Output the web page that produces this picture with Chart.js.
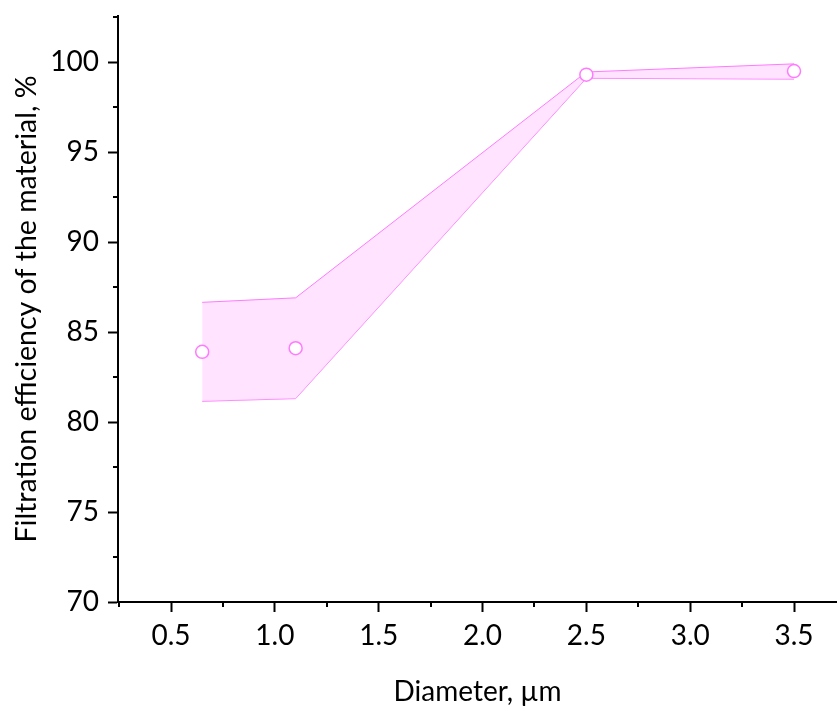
<!DOCTYPE html>
<html lang="en">
<head>
    <meta charset="UTF-8">
    <title>Filtration efficiency</title>
    <script src="https://cdn.jsdelivr.net/npm/chart.js"></script>
    <style>
        body { margin: 0; background: #fff; }
    </style>
</head>
<body>
<canvas id="chart" width="837" height="711"></canvas>
<script>
    // particle diameter, um
    const diameters = [0.65, 1.1, 2.5, 3.5];
    // mean efficiency, %
    const efficiency = [83.9, 84.1, 99.3, 99.5];
    // band edges
    const upperBand = [86.65, 86.9, 99.45, 99.9];
    const lowerBand = [81.15, 81.3, 99.1, 99.05];

    const xTicks = [0.5, 1.0, 1.5, 2.0, 2.5, 3.0, 3.5];
    const xMinor = [0.25, 0.75, 1.25, 1.75, 2.25, 2.75, 3.25];
    const yTicks = [70, 75, 80, 85, 90, 95, 100];
    const yMinor = [72.5, 77.5, 82.5, 87.5, 92.5, 97.5, 102.5];

    const pink = '#ff7aff';
    const fontFamily = 'Lato, "Open Sans", sans-serif';

    const toPts = (ys) => diameters.map((d, i) => ({ x: d, y: ys[i] }));

    // short ticks between the labelled ones
    const minorTicks = {
        id: 'minorTicks',
        afterDraw(chart) {
            const ctx = chart.ctx;
            const x = chart.scales.x, y = chart.scales.y;
            ctx.save();
            ctx.strokeStyle = '#000';
            ctx.lineWidth = 2;
            ctx.beginPath();
            xMinor.forEach(v => {
                const px = Math.round(x.getPixelForValue(v));
                if (px < x.left || px > x.right) return;
                ctx.moveTo(px, x.top);
                ctx.lineTo(px, x.top + 5);
            });
            yMinor.forEach(v => {
                const py = Math.round(y.getPixelForValue(v));
                if (py < y.top - 1 || py > y.bottom) return;
                ctx.moveTo(y.right, py);
                ctx.lineTo(y.right - 5, py);
            });
            ctx.stroke();
            ctx.restore();
        }
    };

    new Chart(document.getElementById('chart'), {
        type: 'line',
        data: {
            datasets: [{
                label: 'Efficiency',
                data: toPts(efficiency),
                showLine: false,
                pointRadius: 6.5,
                pointBorderWidth: 1.5,
                pointBackgroundColor: '#ffffff',
                pointBorderColor: pink
            }, {
                label: 'Upper',
                data: toPts(upperBand),
                borderColor: pink,
                borderWidth: 1,
                backgroundColor: 'rgba(255, 200, 255, 0.5)',
                pointRadius: 0,
                fill: '+1'
            }, {
                label: 'Lower',
                data: toPts(lowerBand),
                borderColor: pink,
                borderWidth: 1,
                pointRadius: 0,
                fill: false
            }]
        },
        options: {
            responsive: false,
            animation: false,
            layout: { autoPadding: false, padding: { top: 16, right: 0, left: 0, bottom: 0 } },
            plugins: {
                legend: { display: false },
                tooltip: { enabled: false }
            },
            scales: {
                x: {
                    type: 'linear',
                    min: 0.2446,
                    max: 3.707,
                    afterBuildTicks: s => { s.ticks = xTicks.map(v => ({ value: v })); },
                    afterFit: s => { s.height = 109; s.paddingLeft = 0; s.paddingRight = 0; },
                    border: { color: '#000', width: 2 },
                    grid: { drawOnChartArea: false, tickLength: 10, tickWidth: 2, tickColor: '#000' },
                    ticks: {
                        color: '#000',
                        padding: 7,
                        maxRotation: 0,
                        font: { family: fontFamily, size: 28 },
                        callback: v => v.toFixed(1)
                    },
                    title: {
                        display: true,
                        text: 'Diameter, µm',
                        color: '#000',
                        font: { family: fontFamily, size: 28 },
                        padding: { top: 0, bottom: 2 }
                    }
                },
                y: {
                    min: 70,
                    max: 102.56,
                    afterBuildTicks: s => { s.ticks = yTicks.map(v => ({ value: v })); },
                    afterFit: s => { s.width = 118; s.paddingTop = 0; s.paddingBottom = 0; },
                    border: { color: '#000', width: 2 },
                    grid: { drawOnChartArea: false, tickLength: 10, tickWidth: 2, tickColor: '#000' },
                    ticks: {
                        color: '#000',
                        padding: 9,
                        font: { family: fontFamily, size: 28 }
                    },
                    title: {
                        display: true,
                        text: 'Filtration efficiency of the material, %',
                        color: '#000',
                        font: { family: fontFamily, size: 28.5 },
                        padding: { top: 10, bottom: 0 }
                    }
                }
            }
        },
        plugins: [minorTicks]
    });
</script>
</body>
</html>
